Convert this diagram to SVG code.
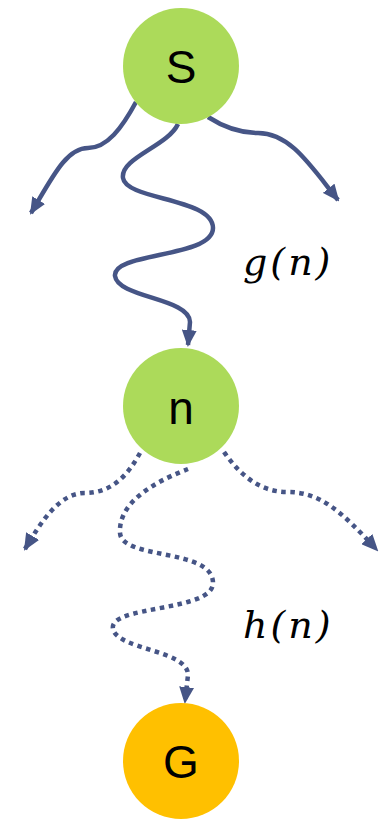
<svg xmlns="http://www.w3.org/2000/svg" width="392" height="819" viewBox="0 0 392 819">
<style>
.node-s{fill:#ACDA5A}
.node-g{fill:#FFC000}
.lbl{font-family:"Liberation Sans",Arial,sans-serif;font-size:46px;fill:#000;text-anchor:middle}
.math{font-family:"DejaVu Serif","Liberation Serif",serif;font-style:italic;font-size:38px;letter-spacing:3px;fill:#000}
.edge{fill:none;stroke:#465586;stroke-width:4.5}
.dot{stroke-dasharray:4.5 4.5}
</style>
<defs>
<marker id="ah" viewBox="0 0 17 15" refX="15" refY="7.5" markerWidth="17" markerHeight="15" markerUnits="userSpaceOnUse" orient="auto">
<path d="M0,0 L17,7.5 L0,15 Z" fill="#465586"/>
</marker>
</defs>
<g id="connectors">
<path class="edge" marker-end="url(#ah)" d="M136,102 C122,128 107,148 88,148 C66,148 52,178 31,213"/>
<path class="edge" marker-end="url(#ah)" d="M178,124 C168,146 120,158 123,178 C126,200 213,198 213,228 C213,258 112,252 115,276 C118,298 190,298 190,322 L188,345"/>
<path class="edge" marker-end="url(#ah)" d="M208,117 C225,128 240,133 258,133 C290,133 310,165 338,200"/>
<path class="edge dot" marker-end="url(#ah)" d="M140,453 C128,475 112,493 85,493 C60,493 42,520 25,549"/>
<path class="edge dot" marker-end="url(#ah)" d="M188,469 C165,478 118,498 120,533 C122,560 213,548 213,583 C213,612 108,605 113,629 C118,650 188,650 188,675 L185,702"/>
<path class="edge dot" marker-end="url(#ah)" d="M224,452 C240,475 260,492 287,492 C320,492 340,510 377,550"/>
</g>
<g id="node-S">
<circle class="node-s" cx="181" cy="66" r="58"/>
<text class="lbl" x="181" y="83">S</text>
</g>
<g id="node-n">
<circle class="node-s" cx="181" cy="406" r="58"/>
<text class="lbl" x="181" y="424">n</text>
</g>
<g id="node-G">
<circle class="node-g" cx="181" cy="761" r="58"/>
<text class="lbl" x="181" y="778">G</text>
</g>
<g id="labels">
<text class="math" x="243" y="275">g(n)</text>
<text class="math" x="243" y="638">h(n)</text>
</g>
</svg>
